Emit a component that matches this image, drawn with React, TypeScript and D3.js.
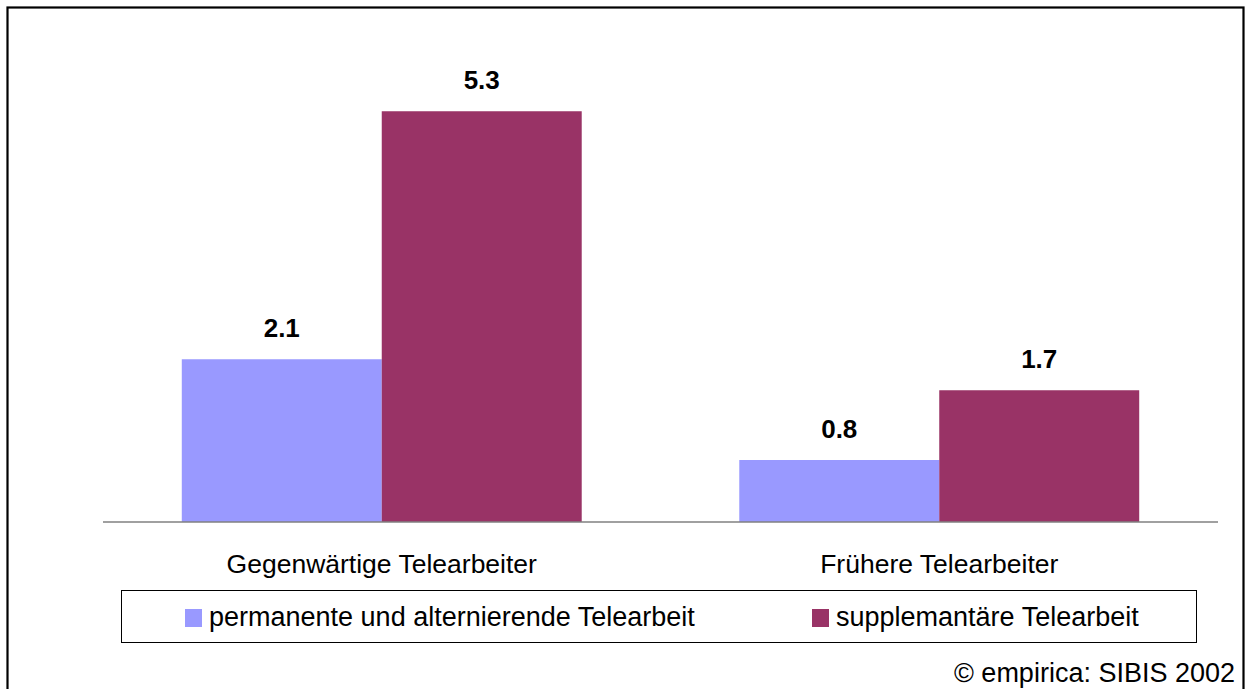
import React from "react";
import * as d3 from "d3";

const categories = ["Gegenwärtige Telearbeiter", "Frühere Telearbeiter"];
const seriesNames = ["permanente und alternierende Telearbeit", "supplemantäre Telearbeit"];
const permanenteValues = [2.1, 0.8];
const supplementaerValues = [5.3, 1.7];
const seriesColors = ["#9999FF", "#993366"];
const sourceNote = "© empirica: SIBIS 2002";

const W = 1247;
const H = 689;
const FONT = "'Liberation Sans', Arial, sans-serif";

export default function App() {
  const seriesValues = [permanenteValues, supplementaerValues];
  const x0 = d3.scaleBand<string>().domain(categories).range([103, 1218]).padding(0);
  const x1 = d3
    .scaleBand<string>()
    .domain(seriesNames)
    .range([0, x0.bandwidth()])
    .paddingInner(0)
    .paddingOuter(0.394);
  const y = d3.scaleLinear().domain([0, 6]).range([522, 57]);
  const fmt = d3.format(".1f");

  const legendX = [185, 812];

  return (
    <svg
      width={W}
      height={H}
      style={{ position: "absolute", left: 0, top: 0, background: "#fff" }}
      fontFamily={FONT}
    >
      <rect x={0} y={0} width={W} height={H} fill="#fff" />
      <rect x={7.5} y={7.5} width={1236} height={720} fill="none" stroke="#000" strokeWidth={2.2} />

      {categories.map((c, ci) =>
        seriesNames.map((s, si) => {
          const v = seriesValues[si][ci];
          const bx = (x0(c) ?? 0) + (x1(s) ?? 0);
          const bw = x1.bandwidth();
          return (
            <g key={c + s}>
              <rect x={bx} y={y(v)} width={bw} height={y(0) - y(v)} fill={seriesColors[si]} />
              <text
                x={bx + bw / 2}
                y={y(v) - 22}
                textAnchor="middle"
                fontSize={26}
                fontWeight="bold"
                fill="#000"
              >
                {fmt(v)}
              </text>
            </g>
          );
        })
      )}

      <line x1={103} x2={1218} y1={y(0)} y2={y(0)} stroke="#808080" strokeWidth={1.6} />

      {categories.map((c) => (
        <text
          key={c}
          x={(x0(c) ?? 0) + x0.bandwidth() / 2}
          y={573}
          textAnchor="middle"
          fontSize={26.5}
          fill="#000"
        >
          {c}
        </text>
      ))}

      <rect x={121.5} y={590.5} width={1075} height={52} fill="#fff" stroke="#000" strokeWidth={1} />
      {seriesNames.map((s, si) => (
        <g key={s}>
          <rect x={legendX[si]} y={609} width={17} height={18} fill={seriesColors[si]} />
          <text x={legendX[si] + 24} y={626} fontSize={27} fill="#000">
            {s}
          </text>
        </g>
      ))}

      <text x={1235} y={682} textAnchor="end" fontSize={27} fill="#000">
        {sourceNote}
      </text>
    </svg>
  );
}
